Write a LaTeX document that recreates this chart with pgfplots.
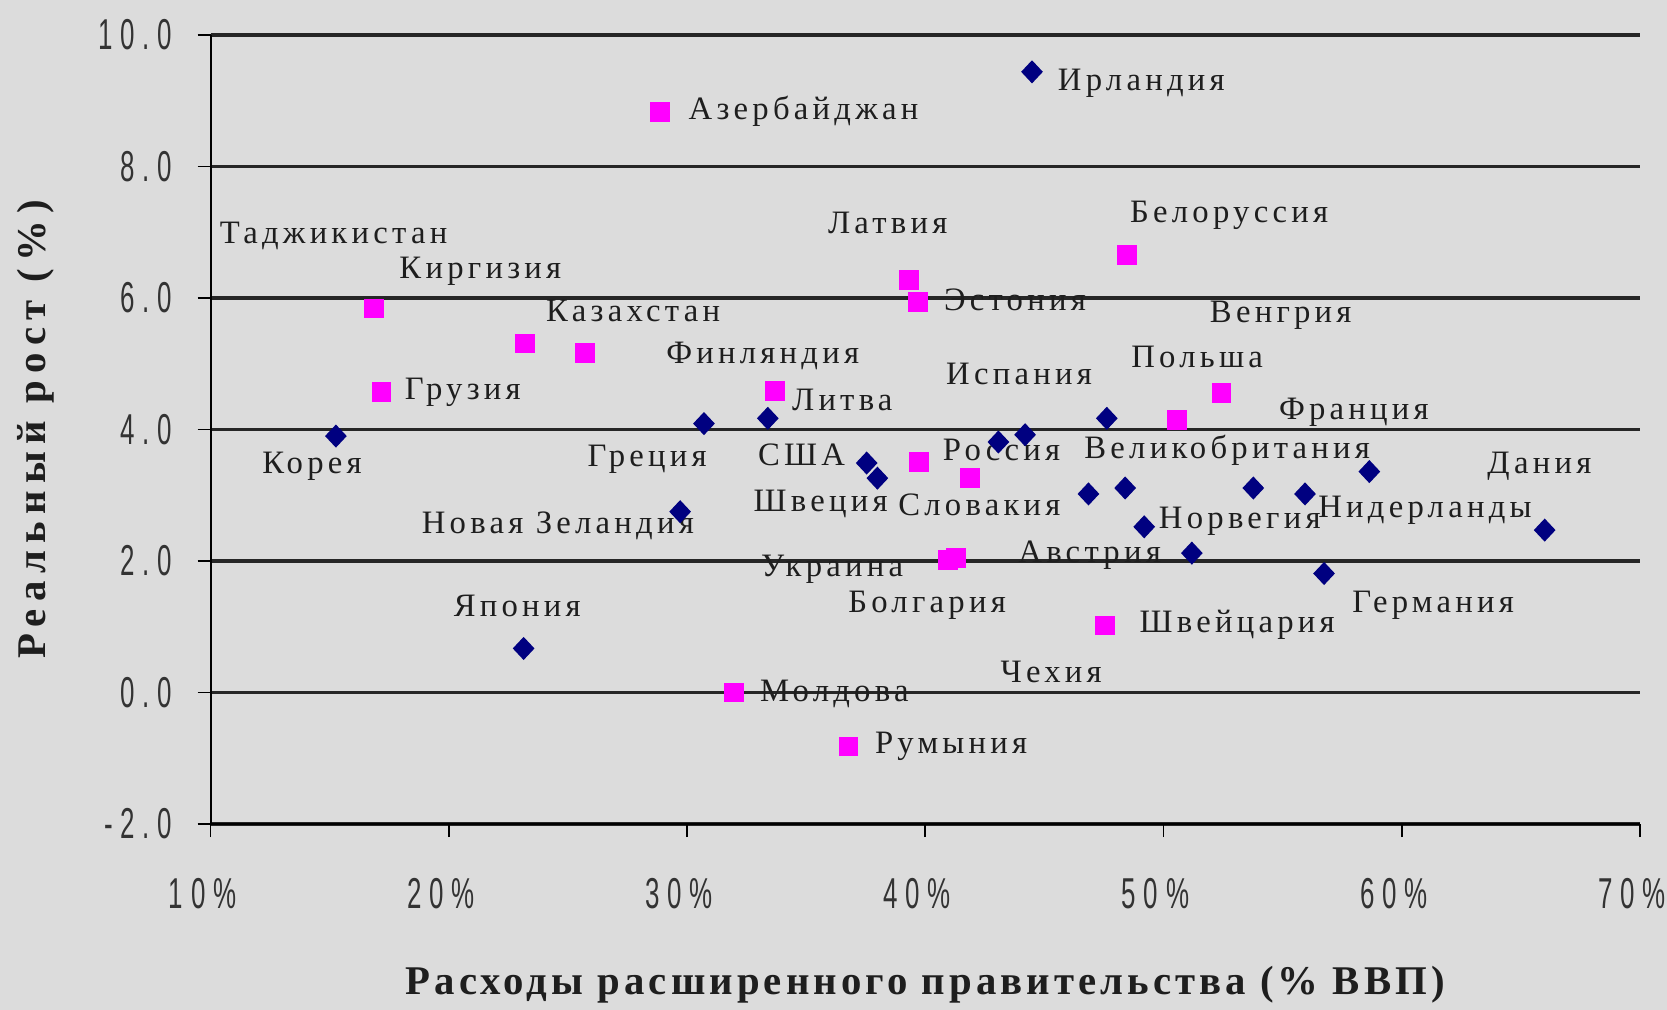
\documentclass[border=0pt]{standalone}
\usepackage{fontspec}
\setmainfont{Liberation Serif}
\newfontfamily\tickfont[FakeStretch=0.6,LetterSpace=18]{Liberation Sans}
\newfontfamily\lblfont[LetterSpace=13]{Liberation Serif}
\newfontfamily\xtitlefont[LetterSpace=10]{Liberation Serif}
\newfontfamily\ytitlefont[LetterSpace=18]{Liberation Serif}
\usepackage{pgfplots}
\usepackage{pgfplotstable}
\pgfplotsset{compat=1.18}
\definecolor{bg}{RGB}{220,220,220}
\definecolor{navyc}{RGB}{0,0,128}
\definecolor{magc}{RGB}{255,0,255}
\definecolor{txt}{RGB}{30,30,30}

\pgfplotstableread{
x y
16.87 5.84
23.20 5.31
17.17 4.57
25.72 5.16
28.87 8.83
33.69 4.59
39.31 6.27
39.69 5.94
48.46 6.65
52.44 4.55
50.56 4.14
39.75 3.51
41.88 3.26
40.95 2.02
41.30 2.05
47.55 1.02
31.96 0.00
36.78 -0.82
}\transition

\pgfplotstableread{
x y
44.48 9.44
15.26 3.90
23.14 0.67
29.71 2.75
30.71 4.09
33.39 4.17
37.54 3.49
37.99 3.26
43.07 3.81
44.19 3.92
47.62 4.17
46.85 3.02
48.39 3.11
49.19 2.52
51.19 2.12
53.77 3.11
55.94 3.02
56.74 1.81
58.64 3.36
66.00 2.47
}\oecd

\begin{document}
\begin{tikzpicture}
\fill[bg] (-21.06mm,-18.6mm) rectangle (145.64mm,82.4mm);
\useasboundingbox (-21.06mm,-18.6mm) rectangle (145.64mm,82.4mm);
\begin{axis}[
  at={(0,0)}, anchor=south west,
  scale only axis, width=142.94mm, height=78.9mm,
  xmin=10, xmax=70, ymin=-2, ymax=10,
  xtick={10,20,...,70}, ytick={-2,0,...,10},
  axis lines=left, axis line style={-, black, line width=0.6pt},
  ymajorgrids, grid style={black!85, line width=0.95pt},
  tick style={black, line width=0.5pt}, tick align=outside, major tick length=1.3mm,
  clip=false,
  /pgf/number format/assume math mode=true,
  yticklabel style={font=\tickfont\fontsize{12.3}{14}\selectfont, text=black!80, xshift=-1.3mm,
    /pgf/number format/.cd, fixed, fixed zerofill, precision=1},
  xticklabel={\pgfmathprintnumber[fixed,precision=0]{\tick}\%},
  xticklabel style={font=\tickfont\fontsize{12.3}{14}\selectfont, text=black!80, yshift=-2.9mm, xshift=-0.8mm},
  xlabel={Расходы расширенного правительства (\% ВВП)},
  xlabel style={font=\xtitlefont\bfseries\fontsize{11.6}{13}\selectfont, text=txt,
    at={(axis description cs:0.5,-0.204)}, anchor=center},
  ylabel={Реальный рост (\%)},
  ylabel style={font=\ytitlefont\bfseries\fontsize{11.6}{13}\selectfont, text=txt,
    at={(axis description cs:-0.1222,0.5)}, anchor=center},
]
\addplot[only marks, mark=diamond*, mark size=3pt, color=navyc, mark options={xscale=1.25}] table[x=x,y=y] {\oecd};
\addplot[only marks, mark=square*, mark size=2.6pt, color=magc] table[x=x,y=y] {\transition};

\begin{scope}[every node/.style={anchor=west, inner sep=0pt, text=txt, font=\lblfont\fontsize{9.3}{10}\selectfont}]
\node at (axis cs:10.36,6.94) {Таджикистан};
\node at (axis cs:17.9,6.41) {Киргизия};
\node at (axis cs:24.06,5.80) {Казахстан};
\node at (axis cs:30.04,8.84) {Азербайджан};
\node at (axis cs:45.54,9.26) {Ирландия};
\node at (axis cs:18.13,4.57) {Грузия};
\node at (axis cs:12.14,3.44) {Корея};
\node at (axis cs:29.1,5.12) {Финляндия};
\node at (axis cs:34.38,4.45) {Литва};
\node at (axis cs:35.89,7.14) {Латвия};
\node at (axis cs:40.76,5.97) {Эстония};
\node at (axis cs:48.57,7.25) {Белоруссия};
\node at (axis cs:51.92,5.73) {Венгрия};
\node at (axis cs:48.62,5.10) {Польша};
\node at (axis cs:40.85,4.84) {Испания};
\node at (axis cs:54.82,4.26) {Франция};
\node at (axis cs:25.8,3.55) {Греция};
\node at (axis cs:32.95,3.61) {США};
\node at (axis cs:40.71,3.69) {Россия};
\node at (axis cs:46.65,3.69) {Великобритания};
\node at (axis cs:63.57,3.44) {Дания};
\node at (axis cs:32.77,2.86) {Швеция};
\node at (axis cs:38.84,2.86) {Словакия};
\node at (axis cs:18.84,2.53) {Новая Зеландия};
\node at (axis cs:49.78,2.61) {Норвегия};
\node at (axis cs:56.47,2.77) {Нидерланды};
\node at (axis cs:33.08,1.88) {Украина};
\node at (axis cs:43.88,2.09) {Австрия};
\node at (axis cs:20.18,1.32) {Япония};
\node at (axis cs:36.74,1.32) {Болгария};
\node at (axis cs:57.9,1.32) {Германия};
\node at (axis cs:48.97,1.03) {Швейцария};
\node at (axis cs:43.13,0.32) {Чехия};
\node at (axis cs:33.04,-0.02) {Молдова};
\node at (axis cs:37.86,-0.82) {Румыния};
\end{scope}
\end{axis}
\end{tikzpicture}
\end{document}
